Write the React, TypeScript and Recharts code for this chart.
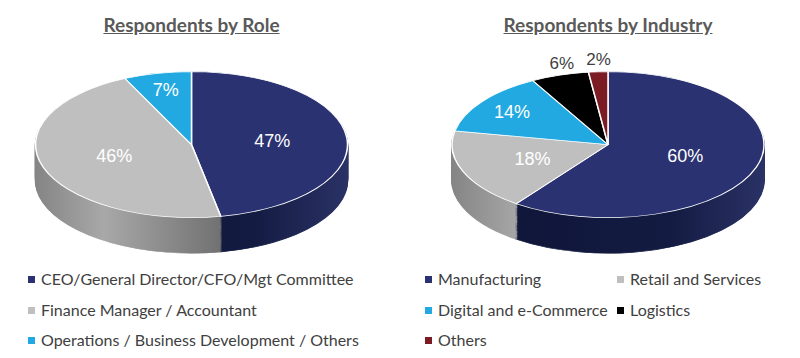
import React from "react";
import { PieChart, Pie, Cell } from "recharts";

const roleNames = [
  "CEO/General Director/CFO/Mgt Committee",
  "Finance Manager / Accountant",
  "Operations / Business Development / Others",
];
const roleValues = [47, 46, 7];
const roleColors = ["#2a3272", "#bfbfbf", "#22a9e1"];
const roleSideFills = ["url(#navySideL)", "url(#graySideL)", "#1784b4"];

const industryNames = [
  "Manufacturing",
  "Retail and Services",
  "Digital and e-Commerce",
  "Logistics",
  "Others",
];
const industryValues = [60, 18, 14, 6, 2];
const industryColors = ["#2a3272", "#bfbfbf", "#22a9e1", "#000000", "#7b1c24"];
const industrySideFills = ["url(#navySideR)", "url(#graySideR)", "#1784b4", "#000000", "#5a1218"];

const K = 0.468; // vertical squash
const R = 156;
const CY = 200;
const DEPTH = 76;
const STEP = 2;

const depthLayers: number[] = [];
for (let d = DEPTH; d > 0; d -= STEP) depthLayers.push(d);

const renderLabel = (p: any) => {
  const { cx, cy, midAngle, outerRadius, percent, value } = p;
  let f = 0.52;
  let xf = 1;
  let fs = 18;
  let color = "#ffffff";
  if (percent < 0.07) {
    f = 1.17;
    xf = 0.82;
    fs = 17;
    color = "#404040";
  } else if (percent < 0.15) {
    f = 0.76;
  }
  const rad = (Math.PI / 180) * midAngle;
  const x = cx + outerRadius * f * Math.cos(rad) * xf;
  const y = cy - outerRadius * f * Math.sin(rad);
  return (
    <g transform={`translate(${x},${y}) scale(1,${1 / K})`}>
      <text
        x={0}
        y={0}
        textAnchor="middle"
        dominantBaseline="central"
        fill={color}
        fontSize={fs}
        fontFamily="'Liberation Sans', Arial, sans-serif"
      >
        {`${value}%`}
      </text>
    </g>
  );
};

function Pie3D({
  names,
  values,
  colors,
  sideFills,
  cx,
  idSuffix,
}: {
  names: string[];
  values: number[];
  colors: string[];
  sideFills: string[];
  cx: number;
  idSuffix: string;
}) {
  const data = names.map((n, i) => ({ name: n, value: values[i] }));
  return (
    <PieChart width={400} height={440} margin={{ top: 0, right: 0, bottom: 0, left: 0 }} style={{ overflow: "visible" }}>
      <defs>
        <linearGradient id={`graySide${idSuffix}`} gradientUnits="userSpaceOnUse" x1={cx - R} y1={0} x2={cx + 40} y2={0}>
          <stop offset="0" stopColor="#858585" />
          <stop offset="0.35" stopColor="#a8a8a8" />
          <stop offset="1" stopColor="#6c6c6c" />
        </linearGradient>
        <linearGradient id={`navySide${idSuffix}`} gradientUnits="userSpaceOnUse" x1={cx - R} y1={0} x2={cx + R} y2={0}>
          <stop offset="0" stopColor="#0e1436" />
          <stop offset="0.7" stopColor="#141b42" />
          <stop offset="1" stopColor="#2a3266" />
        </linearGradient>
      </defs>
      {depthLayers.map((d) => (
        <Pie
          key={`layer-${d}`}
          data={data}
          dataKey="value"
          nameKey="name"
          cx={cx}
          cy={CY + d}
          outerRadius={R}
          startAngle={90}
          endAngle={-270}
          isAnimationActive={false}
          stroke="none"
        >
          {data.map((_, i) => (
            <Cell key={i} fill={sideFills[i]} stroke={sideFills[i]} strokeWidth={1.5} />
          ))}
        </Pie>
      ))}
      <Pie
        data={data}
        dataKey="value"
        nameKey="name"
        cx={cx}
        cy={CY}
        outerRadius={R}
        startAngle={90}
        endAngle={-270}
        isAnimationActive={false}
        label={renderLabel}
        labelLine={false}
      >
        {data.map((_, i) => (
          <Cell key={i} fill={colors[i]} stroke="#ffffff" strokeWidth={1.5} />
        ))}
      </Pie>
    </PieChart>
  );
}

const titleStyle: React.CSSProperties = {
  position: "absolute",
  top: 13,
  fontFamily: "Lato, 'Open Sans', sans-serif",
  fontWeight: 700,
  fontSize: 19,
  color: "#595959",
  textDecoration: "underline",
  textAlign: "center",
  whiteSpace: "nowrap",
};

const legendText: React.CSSProperties = {
  position: "absolute",
  fontFamily: "Lato, 'Open Sans', sans-serif",
  fontSize: 16,
  color: "#404040",
  whiteSpace: "nowrap",
  lineHeight: "20px",
};

function LegendItem({ x, y, color, label }: { x: number; y: number; color: string; label: string }) {
  return (
    <>
      <div style={{ position: "absolute", left: x, top: y - 3.5, width: 7, height: 7, background: color }} />
      <div style={{ ...legendText, left: x + 13, top: y - 10 }}>{label}</div>
    </>
  );
}

const rowY = [279, 310, 340];

export default function App() {
  const top = 145 - CY * K;
  return (
    <div style={{ position: "absolute", left: 0, top: 0, width: 800, height: 358, background: "#ffffff", overflow: "hidden" }}>
      <div style={{ ...titleStyle, left: 0, width: 383 }}>Respondents by Role</div>
      <div style={{ ...titleStyle, left: 416, width: 384 }}>Respondents by Industry</div>

      <div style={{ position: "absolute", left: 0, top, width: 400, height: 440, transform: `scaleY(${K})`, transformOrigin: "top left" }}>
        <Pie3D names={roleNames} values={roleValues} colors={roleColors} sideFills={roleSideFills} cx={191.5} idSuffix="L" />
      </div>
      <div style={{ position: "absolute", left: 400, top, width: 400, height: 440, transform: `scaleY(${K})`, transformOrigin: "top left" }}>
        <Pie3D names={industryNames} values={industryValues} colors={industryColors} sideFills={industrySideFills} cx={208} idSuffix="R" />
      </div>

      {roleNames.map((n, i) => (
        <LegendItem key={n} x={28} y={rowY[i]} color={roleColors[i]} label={n} />
      ))}
      {industryNames.map((n, i) => (
        <LegendItem
          key={n}
          x={i % 2 === 0 ? 425 : 617}
          y={rowY[Math.floor(i / 2)]}
          color={industryColors[i]}
          label={n}
        />
      ))}
    </div>
  );
}
